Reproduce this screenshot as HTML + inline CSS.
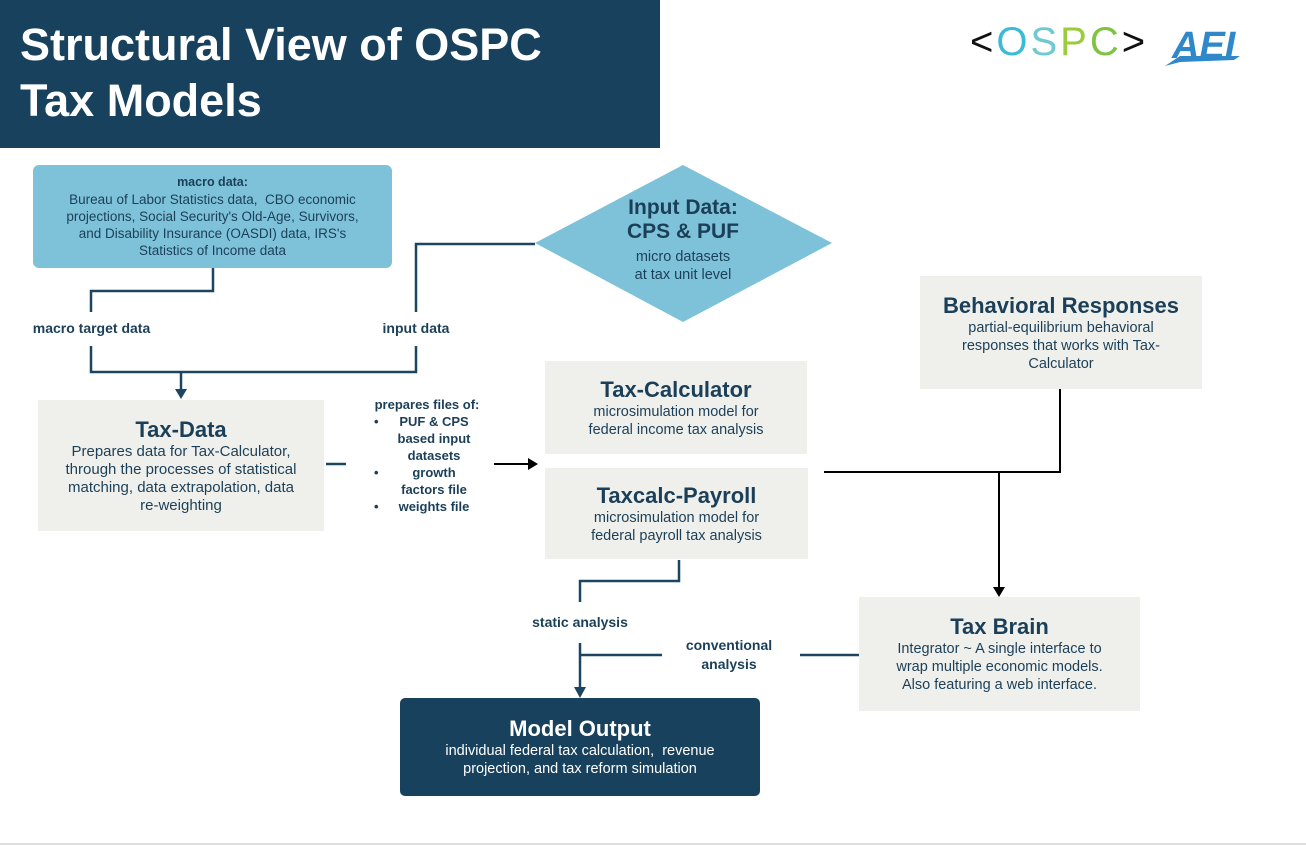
<!DOCTYPE html>
<html><head><meta charset="utf-8"><style>
*{margin:0;padding:0;box-sizing:border-box}
body{width:1306px;height:846px;background:#fff;position:relative;overflow:hidden;font-family:"Liberation Sans",sans-serif;color:#1b3f58}
.a{position:absolute}
.box{position:absolute;background:#eff0eb;text-align:center;display:flex;flex-direction:column;justify-content:center;align-items:center}
h2{font-size:22px;font-weight:bold;color:#1b3f58;line-height:26px}
.t{font-size:14.5px;line-height:18px}
.lbl{position:absolute;font-size:14px;font-weight:bold;text-align:center;line-height:19px}
</style></head><body>
<div class="a" style="left:0;top:0;width:660px;height:148px;background:#17415c"></div>
<div class="a" style="left:20px;top:17px;color:#fff;font-size:45px;font-weight:bold;line-height:56px">Structural View of OSPC<br>Tax Models</div>
<div class="a" style="left:970px;top:20px;font-size:40px;letter-spacing:3px;line-height:44px;font-weight:normal"><span style="color:#111">&lt;</span><span style="color:#3bbcd6">O</span><span style="color:#6ec9d0">S</span><span style="color:#9ccb3c">P</span><span style="color:#7fc343">C</span><span style="color:#111">&gt;</span></div>
<svg class="a" style="left:1160px;top:22px" width="95" height="46"><polygon points="5,44 20,34 80,34 74,38 20,40" fill="#2e88c9"/><text x="12" y="36" font-family="Liberation Sans" font-weight="bold" font-style="italic" font-size="38" fill="#2e88c9">AEI</text></svg>
<div class="box" style="left:33px;top:165px;width:359px;height:103px;background:#7ec2d9;border-radius:6px;color:#1b3f58"><div style="font-size:12.5px;font-weight:bold;line-height:17px">macro data:</div><div style="font-size:13.5px;line-height:17px">Bureau of Labor Statistics data,&nbsp; CBO economic<br>projections, Social Security's Old-Age, Survivors,<br>and Disability Insurance (OASDI) data, IRS's<br>Statistics of Income data</div></div>
<svg class="a" style="left:0;top:0" width="1306" height="846">
<polygon points="683,165 832,243 683,322 535,243" fill="#7ec2d9"/>
<g stroke="#1b4560" stroke-width="2.5" fill="none">
<polyline points="213,268 213,291 91,291 91,312"/>
<polyline points="535,244 416,244 416,312"/>
<polyline points="91,346 91,372 416,372 416,346"/>
<line x1="181" y1="372" x2="181" y2="390"/>
<line x1="326" y1="464" x2="346" y2="464"/>
<polyline points="679,560 679,581 580,581 580,602"/>
<line x1="580" y1="643" x2="580" y2="688"/>
<line x1="580" y1="655" x2="662" y2="655"/>
<line x1="800" y1="655" x2="859" y2="655"/>
</g>
<polygon points="175,389 187,389 181,399" fill="#1b4560"/>
<polygon points="574,687 586,687 580,698" fill="#1b4560"/>
<g stroke="#000" stroke-width="2" fill="none">
<line x1="494" y1="464" x2="528" y2="464"/>
<polyline points="824,472 1060,472 1060,389"/>
<line x1="999" y1="472" x2="999" y2="588"/>
</g>
<polygon points="528,458 538,464 528,470" fill="#000"/>
<polygon points="993,587 1005,587 999,597" fill="#000"/>
<line x1="0" y1="844" x2="1306" y2="844" stroke="#ddd" stroke-width="2"/>
</svg>
<div class="a" style="left:560px;top:196px;width:246px;text-align:center"><div style="font-size:21px;font-weight:bold;line-height:24px">Input Data:<br>CPS &amp; PUF</div><div class="t" style="margin-top:4px">micro datasets<br>at tax unit level</div></div>
<div class="lbl" style="left:18px;top:319px;width:147px">macro target data</div>
<div class="lbl" style="left:368px;top:319px;width:96px">input data</div>
<div class="box" style="left:38px;top:400px;width:286px;height:131px"><h2>Tax-Data</h2><div class="t" style="font-size:15px">Prepares data for Tax-Calculator,<br>through the processes of statistical<br>matching, data extrapolation, data<br>re-weighting</div></div>
<div class="a" style="left:362px;top:396px;width:130px;font-size:13px;font-weight:bold;line-height:17px;text-align:center">prepares files of:
<div style="position:relative;padding-left:14px">PUF &amp; CPS<br>based input<br>datasets<span class="a" style="left:12px;top:0">•</span></div>
<div style="position:relative;padding-left:14px">growth<br>factors file<span class="a" style="left:12px;top:0">•</span></div>
<div style="position:relative;padding-left:14px">weights file<span class="a" style="left:12px;top:0">•</span></div></div>
<div class="box" style="left:545px;top:361px;width:262px;height:93px"><h2>Tax-Calculator</h2><div class="t">microsimulation model for<br>federal income tax analysis</div></div>
<div class="box" style="left:545px;top:468px;width:263px;height:91px"><h2>Taxcalc-Payroll</h2><div class="t">microsimulation model for<br>federal payroll tax analysis</div></div>
<div class="box" style="left:920px;top:276px;width:282px;height:113px"><h2>Behavioral Responses</h2><div class="t">partial-equilibrium behavioral<br>responses that works with Tax-<br>Calculator</div></div>
<div class="box" style="left:859px;top:597px;width:281px;height:114px"><h2>Tax Brain</h2><div class="t">Integrator ~ A single interface to<br>wrap multiple economic models.<br>Also featuring a web interface.</div></div>
<div class="lbl" style="left:515px;top:613px;width:130px">static analysis</div>
<div class="lbl" style="left:660px;top:636px;width:138px">conventional<br>analysis</div>
<div class="box" style="left:400px;top:698px;width:360px;height:98px;background:#17415c;border-radius:5px;color:#fff"><h2 style="color:#fff">Model Output</h2><div class="t">individual federal tax calculation,&nbsp; revenue<br>projection, and tax reform simulation</div></div>
</body></html>
